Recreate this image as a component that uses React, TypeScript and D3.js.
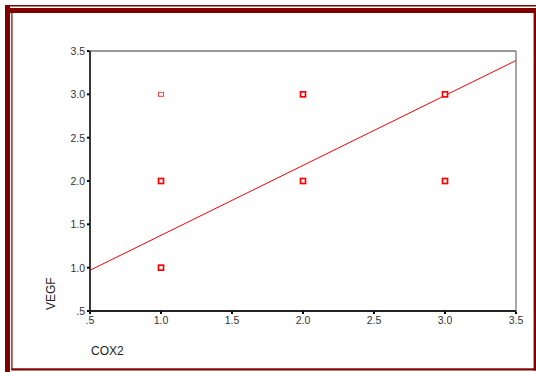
import * as d3 from "d3";

// COX2 vs VEGF scatter with fit line
const cox2 = [1, 2, 3, 1, 2, 3, 1];
const vegf = [3, 3, 3, 2, 2, 2, 1];
const cases = [1, 3, 3, 3, 3, 3, 3];
const fitX = [0.5, 3.5];
const fitY = [0.97, 3.39];
const ticks = [0.5, 1, 1.5, 2, 2.5, 3, 3.5];

const fmt = (v: number) => (v < 1 ? d3.format(".1f")(v).replace(/^0/, "") : d3.format(".1f")(v));

const App = () => {
  const width = 536,
    height = 372;
  const margin = { left: 90, right: 20, top: 51, bottom: 61 };
  const x = d3.scaleLinear().domain([0.5, 3.5]).range([margin.left, width - margin.right]);
  const y = d3.scaleLinear().domain([0.5, 3.5]).range([height - margin.bottom, margin.top]);
  const line = d3
    .line<number>()
    .x((d) => x(d))
    .y((_, i) => y(fitY[i]));
  const red = "#800000";
  const font = "'Liberation Sans', Arial, sans-serif";

  return (
    <div style={{ position: "absolute", left: 0, top: 0 }}>
      <svg width={width} height={height} style={{ display: "block" }}>
        <rect width={width} height={height} fill="#fff" />
        {/* frame */}
        <rect x={5} y={5} width={531} height={1.5} fill={red} />
        <rect x={5} y={8} width={531} height={5} fill={red} />
        <rect x={5} y={5} width={5} height={367} fill={red} />
        <rect x={11.3} y={8} width={1.2} height={362} fill={red} />
        <rect x={11.3} y={368.3} width={524.7} height={2.2} fill={red} />
        <rect x={533.6} y={8} width={2.4} height={362.5} fill={red} />

        {/* plot box */}
        <line x1={x(0.5)} x2={x(3.5)} y1={y(3.5)} y2={y(3.5)} stroke="#777" strokeWidth={1.3} />
        <line x1={x(3.5)} x2={x(3.5)} y1={y(3.5)} y2={y(0.5)} stroke="#777" strokeWidth={1.3} />
        <line x1={x(0.5)} x2={x(0.5)} y1={y(3.5)} y2={y(0.5)} stroke="#222" strokeWidth={1.8} />
        <line x1={x(0.5)} x2={x(3.5)} y1={y(0.5)} y2={y(0.5)} stroke="#222" strokeWidth={1.8} />

        {/* y ticks */}
        {ticks.map((t) => (
          <g key={"y" + t}>
            <rect x={x(0.5) - 3} y={y(t) - 1} width={2.5} height={2} fill="#000" />
            <text
              x={x(0.5) - 5}
              y={y(t) + 4}
              textAnchor="end"
              fontFamily={font}
              fontSize={10.5}
              fill="#333"
            >
              {fmt(t)}
            </text>
          </g>
        ))}

        {/* x ticks */}
        {ticks.map((t) => (
          <g key={"x" + t}>
            <rect x={x(t) - 1} y={y(0.5) + 0.5} width={2} height={2.5} fill="#000" />
            <text
              x={x(t)}
              y={y(0.5) + 13}
              textAnchor="middle"
              fontFamily={font}
              fontSize={10.5}
              fill="#333"
            >
              {fmt(t)}
            </text>
          </g>
        ))}

        {/* fit line */}
        <path d={line(fitX) ?? ""} fill="none" stroke="#ff0000" strokeWidth={1} />

        {/* points */}
        {cox2.map((c, i) => {
          const light = cases[i] < 2;
          return (
            <rect
              key={i}
              x={x(c) - 2.5}
              y={y(vegf[i]) - (light ? 2 : 2.5)}
              width={5}
              height={light ? 4 : 5}
              fill="#fff"
              stroke="#ff0000"
              strokeWidth={light ? 1 : 1.7}
              strokeOpacity={light ? 0.75 : 1}
            />
          );
        })}

        {/* axis titles */}
        <text x={91} y={355} fontFamily={font} fontSize={12} fill="#222">
          COX2
        </text>
        <text
          transform={`translate(55,${y(0.5) - 1}) rotate(-90)`}
          fontFamily={font}
          fontSize={12}
          fill="#222"
        >
          VEGF
        </text>
      </svg>
    </div>
  );
};

export default App;
